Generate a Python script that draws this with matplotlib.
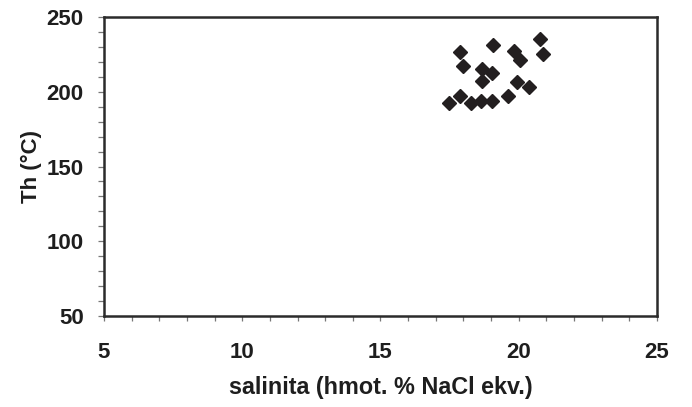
import matplotlib.pyplot as plt
from matplotlib.ticker import MultipleLocator

# salinity (wt. % NaCl eq.) and homogenisation temperature (deg C)
salinita = [17.87, 17.99, 19.08, 18.66, 19.02, 18.68, 19.83, 20.05, 20.77,
            20.89, 19.94, 20.37, 19.62, 17.87, 17.48, 18.26, 18.62, 19.02]
th = [226.3, 217.3, 231.2, 214.9, 212.6, 207.0, 227.2, 221.1, 235.0,
      225.0, 206.2, 203.2, 197.0, 197.2, 192.3, 192.5, 193.6, 193.6]

plt.rcParams['font.family'] = ['Liberation Sans', 'DejaVu Sans']
plt.rcParams['font.weight'] = 'bold'

fig = plt.figure(figsize=(6.92, 4.07), dpi=100)
ax = fig.add_axes([0.1503, 0.2236, 0.7991, 0.7346])

ax.plot(salinita, th, linestyle='none', marker='D', ms=6.8, color='#231f20')

ax.set_xlim(5, 25)
ax.set_ylim(50, 250)
ax.xaxis.set_major_locator(MultipleLocator(5))
ax.xaxis.set_minor_locator(MultipleLocator(1))
ax.yaxis.set_major_locator(MultipleLocator(50))
ax.yaxis.set_minor_locator(MultipleLocator(10))

for s in ax.spines.values():
    s.set_linewidth(1.8)
    s.set_color('#2b2b2b')
ax.tick_params(which='both', direction='out', color='#777777', width=0.9)
ax.tick_params(which='both', length=4.5, labelsize=16, labelcolor='#1e1e1e')
ax.tick_params(axis='y', pad=10)
ax.tick_params(axis='x', which='both', length=3.5, pad=15)

ax.set_xlabel('salinita (hmot. % NaCl ekv.)', fontsize=16.8, fontweight='bold',
              labelpad=9.5, color='#1e1e1e')
ax.set_ylabel('Th (°C)', fontsize=16, fontweight='bold', labelpad=3.5, color='#1e1e1e')

fig.savefig('out.png', dpi=100)
